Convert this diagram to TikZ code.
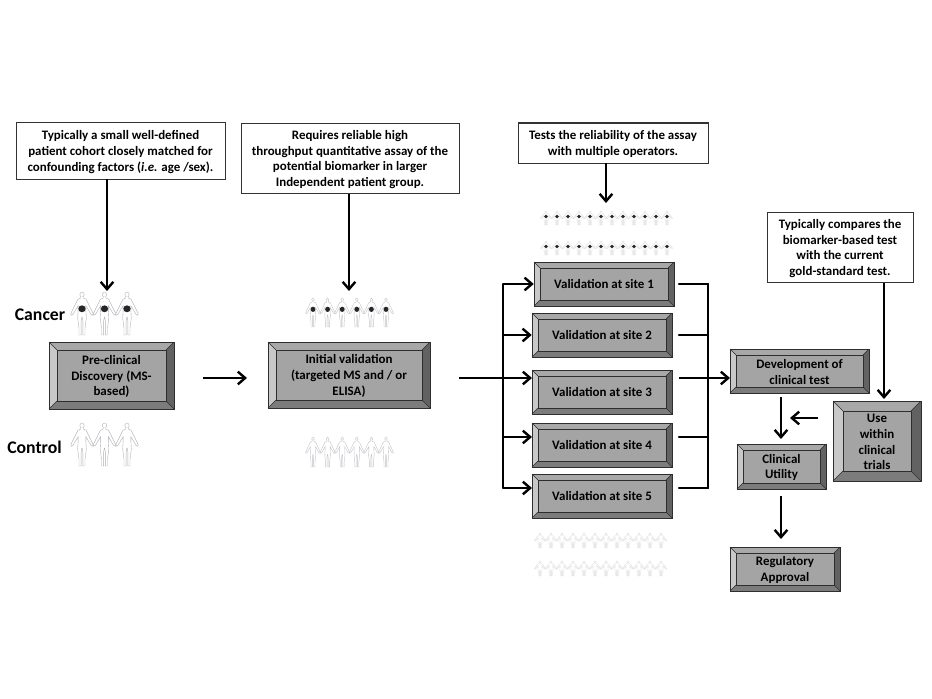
\documentclass[tikz,border=0pt]{standalone}
\usepackage{fontspec}
\setmainfont{Carlito}[Ligatures=TeX]
\usetikzlibrary{calc,arrows.meta}
\definecolor{bevT}{HTML}{A8A8A8}
\definecolor{bevL}{HTML}{C8C8C8}
\definecolor{bevR}{HTML}{626262}
\definecolor{bevB}{HTML}{7C7C7C}
\definecolor{bevF}{HTML}{A4A4A4}
\definecolor{bevE}{HTML}{2E2E2E}
\definecolor{fig}{HTML}{B0B0B8}
\tikzset{
  x=0.75pt,y=-0.75pt,
  note/.style={draw=black!80,line width=0.75pt,fill=white,inner sep=0pt},
  boxframe/.style={inner sep=0pt},
  boxtext/.style={align=center,font=\fontsize{9.7}{11.8}\selectfont\bfseries,inner sep=0pt},
  flow/.style={line width=1.8pt,-{Straight Barb[length=5.5pt,width=9.5pt,line width=1.8pt]}},
  bar/.style={line width=1.8pt,line cap=round},
  grouplabel/.style={font=\fontsize{13.3}{15}\selectfont\bfseries,inner sep=0pt},
  figline/.style={draw=fig,line width=0.3pt,fill=white},
}
% name, x1,y1,x2,y2, bevel, text drop in px, text
\newcommand{\bevelbox}[8]{
  \fill[bevF] (#2,#3) rectangle (#4,#5);
  \fill[bevT] (#2,#3) -- (#4,#3) -- ({#4-#6},{#3+#6}) -- ({#2+#6},{#3+#6}) -- cycle;
  \fill[bevL] (#2,#3) -- ({#2+#6},{#3+#6}) -- ({#2+#6},{#5-#6}) -- (#2,#5) -- cycle;
  \fill[bevR] (#4,#3) -- ({#4-#6},{#3+#6}) -- ({#4-#6},{#5-#6}) -- (#4,#5) -- cycle;
  \fill[bevB] (#2,#5) -- ({#2+#6},{#5-#6}) -- ({#4-#6},{#5-#6}) -- (#4,#5) -- cycle;
  \draw[bevE,line width=0.55pt] (#2,#3) rectangle (#4,#5);
  \draw[bevE,line width=0.7pt] ({#2+#6},{#3+#6}) rectangle ({#4-#6},{#5-#6});
  \draw[bevE,line width=0.3pt] (#2,#3) -- ({#2+#6},{#3+#6}) (#4,#3) -- ({#4-#6},{#3+#6}) (#2,#5) -- ({#2+#6},{#5-#6}) (#4,#5) -- ({#4-#6},{#5-#6});
  \node[boxframe,minimum width={(#4-#2)*0.75pt},minimum height={(#5-#3)*0.75pt}] (#1) at ({(#2+#4)/2},{(#3+#5)/2}) {};
  \node[boxtext] (#1-text) at ({(#2+#4)/2},{(#3+#5)/2+#7}) {#8};
}
% name, cx, cy, width pt, height pt, text
\newcommand{\notebox}[6]{
  \node[note,minimum width=#4pt,minimum height=#5pt] (#1) at (#2,#3) {};
  \node[boxtext] (#1-text) at (#2,{#3+1}) {#6};
}
% cx, top y, step (sets width), height, tumour y radius in units (0 = none)
\newcommand{\person}[5]{
  \begin{scope}[shift={({#1},{#2})},x=#3*0.0144pt,y=-#4*0.0075pt]
    \draw[figline] (0,6) ellipse[x radius=5,y radius=6];
    \draw[figline] (-3,11) -- (-3,14) .. controls (-9,16) and (-11,17) .. (-12,22) -- (-26,50) -- (-25,54) -- (-21,52) -- (-9,32) -- (-9,44) -- (-10,60) -- (-7,84) -- (-7,100) -- (-2,100) -- (-2,68) -- (-0.5,58) -- (0.5,58) -- (2,68) -- (2,100) -- (7,100) -- (7,84) -- (10,60) -- (9,44) -- (9,32) -- (21,52) -- (25,54) -- (26,50) -- (12,22) .. controls (11,17) and (9,16) .. (3,14) -- (3,11);
    \ifnum#5>0\fill[black!85] (0,39) ellipse[x radius=8.5,y radius=#5];\fi
  \end{scope}
}
\newcommand{\personrow}[6]{% x0, step, count, top, height, tumour radius
  \foreach \k in {1,...,#3}{\person{#1+(\k-1)*#2}{#4}{#2}{#5}{#6}}
}
\begin{document}
\begin{tikzpicture}
\useasboundingbox (0,0) rectangle (932,699);
\fill[white] (0,0) rectangle (932,699);

\notebox{noteA}{120.5}{151}{156.75}{42}{Typically a small well-defined\\patient cohort closely matched for\\confounding factors (\textit{i.e.} age /sex).}
\notebox{noteB}{350}{158.5}{163.5}{53}{Requires reliable high\\throughput quantitative assay of the\\potential biomarker in larger\\Independent patient group.}
\notebox{noteC}{613}{143}{142.5}{30}{Tests the reliability of the assay\\with multiple operators.}
\notebox{noteD}{840}{247.5}{109.5}{53}{Typically compares the\\biomarker-based test\\with the current\\gold-standard test.}

\personrow{82}{22.5}{3}{292}{43}{8}
\personrow{82}{22.5}{3}{423}{43}{0}
\colorlet{fig}{fig!75!white}
\personrow{313}{14.6}{6}{298}{29}{9}
\personrow{313}{14.6}{6}{437}{30}{0}
\colorlet{fig}{fig!55!white}
\personrow{546}{11}{12}{211}{14}{14}
\personrow{546}{11}{12}{241}{14}{14}
\personrow{540}{11}{12}{533}{15}{0}
\personrow{540}{11}{12}{561}{15}{0}

\node[grouplabel] (cancer) at (40,315) {Cancer};
\node[grouplabel] (control) at (34.5,447) {Control};

\bevelbox{pre}{49}{342}{174}{409}{8}{1}{Pre-clinical\\Discovery (MS-\\based)}
\bevelbox{init}{268}{342}{430}{408}{8}{1}{Initial validation\\(targeted MS and / or\\ELISA)}
\bevelbox{s1}{534}{262}{674}{306}{6}{0}{Validation at site 1}
\bevelbox{s2}{532}{313}{672}{357}{6}{0}{Validation at site 2}
\bevelbox{s3}{532}{370}{672}{414}{6}{0}{Validation at site 3}
\bevelbox{s4}{532}{423}{672}{467}{6}{0}{Validation at site 4}
\bevelbox{s5}{532}{474}{672}{518}{6}{0}{Validation at site 5}
\bevelbox{dev}{730}{349}{869}{393}{6}{1}{Development of\\clinical test}
\bevelbox{use}{833}{401}{921}{481}{10}{1}{Use\\within\\clinical\\trials}
\bevelbox{util}{737}{444}{826}{489}{6}{1}{Clinical\\Utility}
\bevelbox{reg}{730}{547}{840}{591}{6}{1}{Regulatory\\Approval}

\coordinate (lbusT) at (503,284);
\coordinate (lbusB) at (503,488);
\coordinate (rbusT) at (708,284);
\coordinate (rbusB) at (708,488);
\coordinate (s3in) at (532,378);
\coordinate (s4in) at (532,437);
\coordinate (s5in) at (532,488);
\coordinate (devin) at (730,378);

\draw[flow] (107,179) -- (107,291);
\draw[flow] (349,194) -- (349,291);
\draw[flow] (606,163) -- (606,203);
\draw[flow] (884,283) -- (884,399);
\draw[flow] (203,378) -- (247,378);
\draw[flow] (459,378) -- (s3in);
\draw[flow] (679,378) -- (devin);
\draw[bar] (lbusT) -- (lbusB);
\draw[bar] (rbusT) -- (rbusB);
\draw[flow] (lbusT) -- (s1.west);
\draw[flow] (503,335) -- (s2.west);
\draw[flow] (503,437) -- (s4in);
\draw[flow] (lbusB) -- (s5in);
\draw[bar] (679,284) -- (rbusT);
\draw[bar] (679,335) -- (708,335);
\draw[bar] (679,437) -- (708,437);
\draw[bar] (679,488) -- (rbusB);
\draw[flow] (781,397) -- (781,439);
\draw[flow] (818,418) -- (790,418);
\draw[flow] (781,496) -- (781,539);
\end{tikzpicture}
\end{document}
